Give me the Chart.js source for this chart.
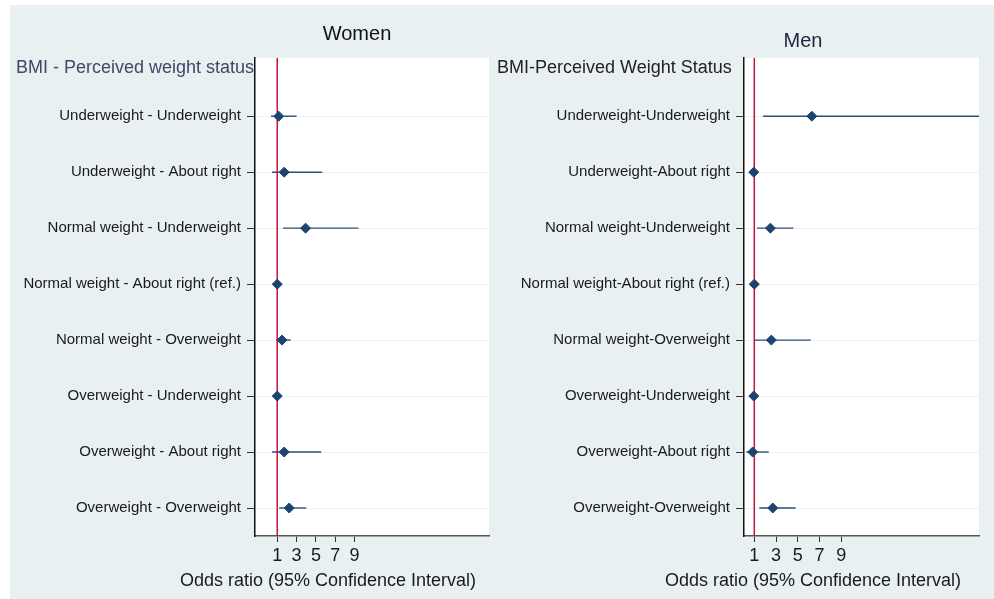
<!DOCTYPE html>
<html>
<head>
<meta charset="utf-8">
<script src="https://cdn.jsdelivr.net/npm/chart.js@4/dist/chart.umd.min.js"></script>
<style>
  html, body { margin: 0; padding: 0; background: #fff; }
  body { width: 994px; height: 599px; position: relative; overflow: hidden; font-family: "Liberation Sans", Arial, sans-serif; }
  .panel-bg { position: absolute; left: 10px; top: 5px; width: 984px; height: 594px; background: #e8f0f2; }
  canvas { position: absolute; }
  .txt { position: absolute; white-space: nowrap; line-height: 1; }
  .center { transform: translateX(-50%); }
</style>
</head>
<body>
<div class="panel-bg"></div>
<canvas id="women" width="485" height="594" style="left:10px;top:5px"></canvas>
<canvas id="men" width="504" height="594" style="left:490px;top:5px"></canvas>

<div class="txt center" style="left:357px;top:23px;font-size:20px;color:#111">Women</div>
<div class="txt center" style="left:803px;top:30px;font-size:20px;color:#1c2640">Men</div>
<div class="txt" style="left:16px;top:58px;font-size:18px;color:#3d4a66">BMI - Perceived weight status</div>
<div class="txt" style="left:497px;top:58px;font-size:18px;color:#222">BMI-Perceived Weight Status</div>
<div class="txt center" style="left:328px;top:571px;font-size:18px;color:#1a1a1a">Odds ratio (95% Confidence Interval)</div>
<div class="txt center" style="left:813px;top:571px;font-size:18px;color:#1a1a1a">Odds ratio (95% Confidence Interval)</div>

<script>
// rows, top to bottom
const womenRows = [
  'Underweight - Underweight',
  'Underweight - About right',
  'Normal weight - Underweight',
  'Normal weight - About right (ref.)',
  'Normal weight - Overweight',
  'Overweight - Underweight',
  'Overweight - About right',
  'Overweight - Overweight'
];
const menRows = [
  'Underweight-Underweight',
  'Underweight-About right',
  'Normal weight-Underweight',
  'Normal weight-About right (ref.)',
  'Normal weight-Overweight',
  'Overweight-Underweight',
  'Overweight-About right',
  'Overweight-Overweight'
];

// odds ratios and 95% CI (null = reference, no interval)
const womenOR   = [1.15, 1.72, 3.93, 1.0, 1.49, 1.0, 1.72, 2.24];
const womenLow  = [0.35, 0.45, 1.59, null, 0.87, 0.8, 0.45, 1.2];
const womenHigh = [3.0, 5.65, 9.4, null, 2.38, 1.25, 5.55, 4.0];

const menOR   = [6.3, 0.95, 2.48, 1.0, 2.57, 0.95, 0.85, 2.7];
const menLow  = [1.8, 0.8, 1.25, null, 1.0, 0.8, 0.26, 1.46];
const menHigh = [25, 1.15, 4.6, null, 6.2, 1.15, 2.33, 4.8];

const xTicks = [1, 3, 5, 7, 9];
const refLine = 1;

const MARK = '#1b4470';
const FONT = '"Liberation Sans", Arial, sans-serif';

// white plot area, red ref line and CI whiskers
const forestPlugin = {
  id: 'forest',
  beforeDraw(chart) {
    const { ctx, chartArea: a } = chart;
    ctx.save();
    ctx.fillStyle = '#fff';
    ctx.fillRect(a.left, a.top, a.right - a.left, a.bottom - a.top);
    ctx.restore();
  },
  beforeDatasetsDraw(chart) {
    const { ctx, chartArea: a, scales } = chart;
    const lo = chart.options.plugins.forest.low;
    const hi = chart.options.plugins.forest.high;
    ctx.save();
    ctx.beginPath();
    ctx.rect(a.left, a.top, a.right - a.left, a.bottom - a.top);
    ctx.clip();
    ctx.strokeStyle = '#2a5078';
    ctx.lineWidth = 1.4;
    lo.forEach((l, i) => {
      if (l == null) return;
      const y = scales.y.getPixelForValue(i + 1);
      ctx.beginPath();
      ctx.moveTo(scales.x.getPixelForValue(l), y);
      ctx.lineTo(scales.x.getPixelForValue(hi[i]), y);
      ctx.stroke();
    });
    const rx = scales.x.getPixelForValue(refLine);
    ctx.strokeStyle = '#c0143c';
    ctx.lineWidth = 1.5;
    ctx.beginPath();
    ctx.moveTo(rx, a.top);
    ctx.lineTo(rx, a.bottom);
    ctx.stroke();
    ctx.restore();
  }
};

function makeChart(id, rows, or, low, high, xMin, xMax, axisW, padRight) {
  return new Chart(document.getElementById(id), {
    type: 'scatter',
    data: {
      datasets: [{
        data: or.map((v, i) => ({ x: v, y: i + 1 })),
        pointStyle: 'rectRot',
        pointRadius: 5,
        backgroundColor: MARK,
        borderColor: MARK,
        borderWidth: 1
      }]
    },
    options: {
      responsive: false,
      animation: false,
      devicePixelRatio: 1,
      layout: { padding: { top: 53, right: padRight, left: 0, bottom: 0 } },
      plugins: {
        legend: { display: false },
        tooltip: { enabled: false },
        forest: { low, high }
      },
      scales: {
        x: {
          type: 'linear',
          min: xMin,
          max: xMax,
          afterBuildTicks: (s) => { s.ticks = xTicks.map(v => ({ value: v })); },
          afterFit: (s) => { s.height = 63; },
          grid: { display: true, drawOnChartArea: false, tickLength: 6, tickColor: '#333' },
          border: { color: '#555', width: 1.5 },
          ticks: { autoSkip: false, maxRotation: 0, padding: 3, color: '#1a1a1a', font: { family: FONT, size: 18 } }
        },
        y: {
          type: 'linear',
          reverse: true,
          min: -0.04,
          max: 8.5,
          afterBuildTicks: (s) => { s.ticks = rows.map((r, i) => ({ value: i + 1 })); },
          afterFit: (s) => { s.width = axisW; },
          grid: { color: '#edf3f4', lineWidth: 1, tickLength: 8, tickColor: '#333' },
          border: { color: '#111', width: 1.5 },
          ticks: {
            autoSkip: false,
            padding: 6,
            color: '#1a1a1a',
            font: { family: FONT, size: 15 },
            callback: (v) => rows[v - 1]
          }
        }
      }
    },
    plugins: [forestPlugin]
  });
}

makeChart('women', womenRows, womenOR, womenLow, womenHigh, -1.3, 22.9, 245, 0);
makeChart('men', menRows, menOR, menLow, menHigh, 0.05, 21.7, 254, 15);
</script>
</body>
</html>
